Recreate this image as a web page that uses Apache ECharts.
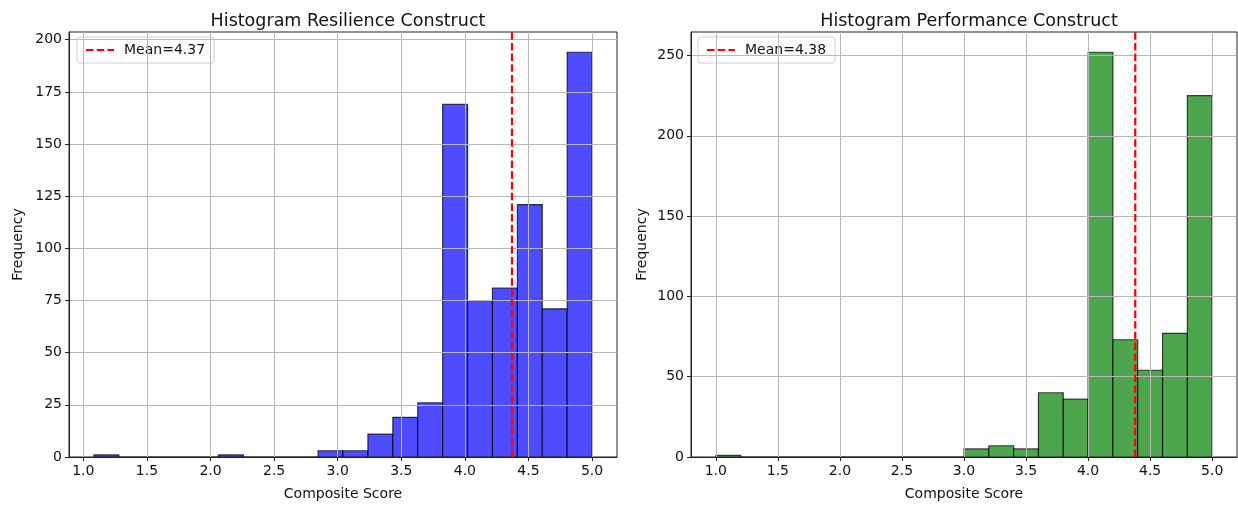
<!DOCTYPE html>
<html lang="en">
<head>
    <meta charset="utf-8">
    <script src="https://cdn.jsdelivr.net/npm/echarts@6/dist/echarts.min.js"></script>
    <title>histograms</title>
</head>
<body>
<style>
    html, body, #main {
        width: 1238px;
        height: 506px;
        margin: 0;
        background: #fff;
    }
</style>
<div id='main'></div>
<script>
    // bin edges and counts
    var leftEdges = [1.0833, 1.2792, 1.4750, 1.6708, 1.8667, 2.0625, 2.2583, 2.4542, 2.6500, 2.8458,
        3.0417, 3.2375, 3.4333, 3.6292, 3.8250, 4.0208, 4.2167, 4.4125, 4.6083, 4.8042, 5.0];
    var leftCounts = [1, 0, 0, 0, 0, 1, 0, 0, 0, 3, 3, 11, 19, 26, 169, 75, 81, 121, 71, 194];
    var leftMean = 4.37;

    var rightEdges = [1.0, 1.2, 1.4, 1.6, 1.8, 2.0, 2.2, 2.4, 2.6, 2.8,
        3.0, 3.2, 3.4, 3.6, 3.8, 4.0, 4.2, 4.4, 4.6, 4.8, 5.0];
    var rightCounts = [1, 0, 0, 0, 0, 0, 0, 0, 0, 0, 5, 7, 5, 40, 36, 252, 73, 54, 77, 225];
    var rightMean = 4.38;

    var xTicks = [1.0, 1.5, 2.0, 2.5, 3.0, 3.5, 4.0, 4.5, 5.0];
    var leftYTicks = [0, 25, 50, 75, 100, 125, 150, 175, 200];
    var rightYTicks = [0, 50, 100, 150, 200, 250];

    var font = 'DejaVu Sans';
    var txt = '#111';

    function binData(edges, counts) {
        var out = [];
        for (var i = 0; i < counts.length; i++) {
            out.push([edges[i], edges[i + 1], counts[i]]);
        }
        return out;
    }

    function makeRender(fill) {
        return function (params, api) {
            var p0 = api.coord([api.value(0), api.value(2)]);
            var p1 = api.coord([api.value(1), 0]);
            return {
                type: 'rect',
                shape: {x: p0[0], y: p0[1], width: p1[0] - p0[0], height: p1[1] - p0[1]},
                style: {fill: fill, stroke: 'rgba(0,0,0,0.72)', lineWidth: 1.2}
            };
        };
    }

    // matplotlib style 5% margins
    function xExtent(edges) {
        var span = edges[edges.length - 1] - edges[0];
        return [edges[0] - span * 0.05, edges[edges.length - 1] + span * 0.05];
    }

    function xAxisOf(gi, edges) {
        var ext = xExtent(edges);
        return {
            type: 'value', gridIndex: gi, min: ext[0], max: ext[1], z: 5,
            name: 'Composite Score', nameLocation: 'middle', nameGap: 30,
            nameTextStyle: {fontFamily: font, fontSize: 14, color: txt},
            axisLine: {show: true, onZero: false, lineStyle: {color: '#222', width: 1}},
            axisTick: {show: true, inside: false, length: 4, customValues: xTicks, lineStyle: {color: '#222'}},
            axisLabel: {customValues: xTicks, margin: 7, fontFamily: font, fontSize: 14, color: txt,
                formatter: function (v) { return v.toFixed(1); }},
            splitLine: {show: true, lineStyle: {color: '#b8b8b8', width: 1}}
        };
    }

    function yAxisOf(gi, counts, ticks, gap) {
        return {
            type: 'value', gridIndex: gi, min: 0, max: Math.max.apply(null, counts) * 1.05, z: 5,
            name: 'Frequency', nameLocation: 'middle', nameGap: gap,
            nameTextStyle: {fontFamily: font, fontSize: 14, color: txt},
            axisLine: {show: true, lineStyle: {color: '#222', width: 1}},
            axisTick: {show: true, inside: false, length: 4, customValues: ticks, lineStyle: {color: '#222'}},
            axisLabel: {customValues: ticks, margin: 7, fontFamily: font, fontSize: 14, color: txt},
            splitLine: {show: true, lineStyle: {color: '#b8b8b8', width: 1}}
        };
    }

    function meanSeries(gi, mean, counts) {
        var top = Math.max.apply(null, counts) * 1.05;
        return {
            name: 'Mean=' + mean.toFixed(2), type: 'line', xAxisIndex: gi, yAxisIndex: gi,
            data: [[mean, 0], [mean, top]], symbol: 'none', z: 10, silent: true,
            lineStyle: {color: '#ff0000', width: 2.2, type: [7.5, 3.2]},
            itemStyle: {color: '#ff0000'}
        };
    }

    function legendOf(left, name) {
        return {
            data: [{name: name, itemStyle: {opacity: 0}}], left: left, top: 37, orient: 'vertical',
            padding: [6, 9, 6, 8], itemWidth: 28, itemHeight: 14, itemGap: 4,
            backgroundColor: 'rgba(255,255,255,0.85)', borderColor: '#d0d0d0', borderWidth: 1, borderRadius: 3,
            textStyle: {fontFamily: font, fontSize: 14, color: txt, padding: [0, 0, 0, 5]}
        };
    }

    var chart = echarts.init(document.getElementById('main'));
    var option = {
        animation: false,
        backgroundColor: '#fff',
        title: [
            {text: 'Histogram Resilience Construct', left: 343, textAlign: 'center', top: 7,
                textStyle: {fontFamily: font, fontSize: 17.5, fontWeight: 'normal', color: txt}},
            {text: 'Histogram Performance Construct', left: 964, textAlign: 'center', top: 7,
                textStyle: {fontFamily: font, fontSize: 17.5, fontWeight: 'normal', color: txt}}
        ],
        legend: [legendOf(77, 'Mean=' + leftMean.toFixed(2)), legendOf(698, 'Mean=' + rightMean.toFixed(2))],
        grid: [
            {left: 69, right: 621, top: 32, bottom: 49, show: true, borderColor: '#222', borderWidth: 1, backgroundColor: 'transparent'},
            {left: 691, right: 1, top: 32, bottom: 49, show: true, borderColor: '#222', borderWidth: 1, backgroundColor: 'transparent'}
        ],
        xAxis: [xAxisOf(0, leftEdges), xAxisOf(1, rightEdges)],
        yAxis: [yAxisOf(0, leftCounts, leftYTicks, 44), yAxisOf(1, rightCounts, rightYTicks, 42)],
        series: [
            {type: 'custom', name: 'resilience', xAxisIndex: 0, yAxisIndex: 0, z: 2,
                renderItem: makeRender('#4d4dff'), encode: {x: [0, 1], y: 2},
                data: binData(leftEdges, leftCounts)},
            {type: 'custom', name: 'performance', xAxisIndex: 1, yAxisIndex: 1, z: 2,
                renderItem: makeRender('#4da64d'), encode: {x: [0, 1], y: 2},
                data: binData(rightEdges, rightCounts)},
            meanSeries(0, leftMean, leftCounts),
            meanSeries(1, rightMean, rightCounts)
        ]
    };
    chart.setOption(option);
</script>
</body>
</html>
